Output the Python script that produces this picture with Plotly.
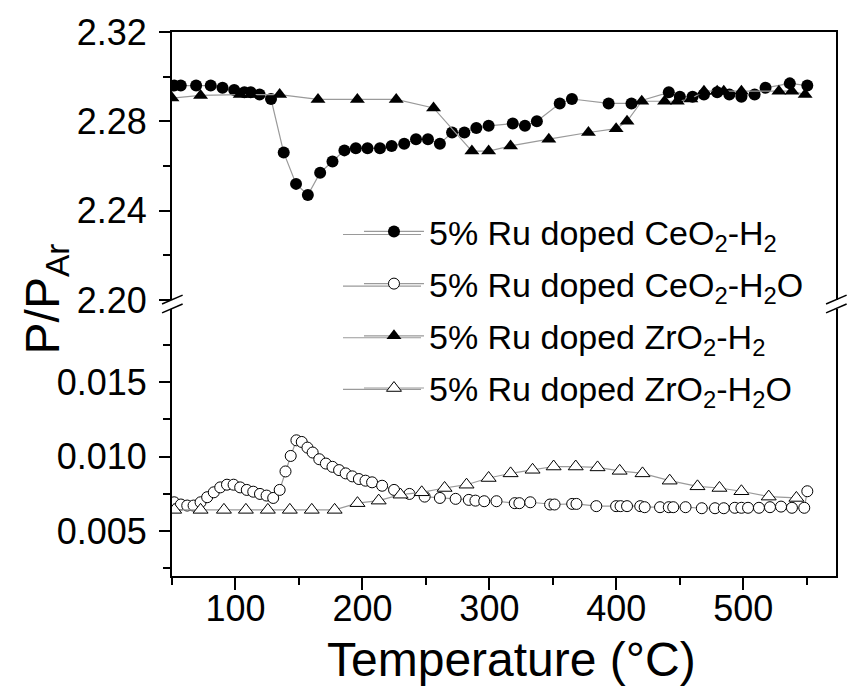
import plotly.graph_objects as go

# ---------------- data ----------------
ce_h2_T = [51.7, 56.9, 69, 80.5, 89.8, 99, 107, 112, 119, 128, 138, 147.7, 157, 166.7, 176.4,
           185.8, 194.8, 204, 213.8, 223, 232.9, 242.2, 251.6, 261, 270.6, 280.3, 289.7, 299.4,
           318.4, 328, 337.4, 355.4, 365, 393.9, 411.9, 441.3, 450, 460, 469, 479.4, 489, 498.5,
           508.9, 517.5, 536.6, 550.4]
ce_h2_v = [2.296, 2.296, 2.296, 2.296, 2.295, 2.294, 2.293, 2.293, 2.292, 2.290, 2.266, 2.252,
           2.247, 2.257, 2.262, 2.267, 2.268, 2.268, 2.268, 2.269, 2.270, 2.272, 2.272, 2.270,
           2.275, 2.275, 2.277, 2.278, 2.279, 2.278, 2.280, 2.288, 2.290, 2.288, 2.288, 2.293,
           2.291, 2.291, 2.292, 2.293, 2.292, 2.291, 2.292, 2.295, 2.297, 2.296]

zr_h2_T = [50, 72.5, 103.7, 112, 134.8, 165, 196, 226.6, 256, 286.2, 299.4, 316.7, 346.8, 378,
           399.8, 408.4, 420, 438, 448, 458.7, 469, 479.4, 484.6, 498.5, 528, 538.3, 548.7]
zr_h2_v = [2.2904, 2.2916, 2.292, 2.292, 2.292, 2.2898, 2.2898, 2.2898, 2.286, 2.2667, 2.2667,
           2.269, 2.272, 2.275, 2.2767, 2.280, 2.289, 2.289, 2.289, 2.290, 2.2935, 2.2935,
           2.2935, 2.2935, 2.2935, 2.2935, 2.292]

ce_h2o_T = [51.7, 57, 62, 67, 72.5, 77.7, 82.9, 88, 93.3, 98.5, 103.7, 108.9, 114, 119.3, 124.5,
            129.7, 134.8, 139.4, 143.5, 148, 152.2, 156.7, 160.8, 166, 171.2, 176.4, 181.6,
            186.8, 192, 197.2, 202.4, 207.6, 215.5, 224.9, 237, 249, 261, 273.4, 283.8, 289,
            295.9, 305.6, 320, 323.6, 332.2, 347.8, 351.3, 365.2, 368.6, 384.2, 399.8, 403.3,
            408.4, 418.8, 422.3, 434.4, 441.3, 444.8, 454.5, 467.3, 477.7, 484.6, 493.3, 498.5,
            503.7, 512.3, 521, 529.7, 538.3, 548, 550.4]
ce_h2o_v = [0.00693, 0.00678, 0.00671, 0.00671, 0.00693, 0.00727, 0.0076, 0.00793, 0.00811,
            0.00811, 0.00793, 0.00776, 0.00764, 0.00749, 0.00738, 0.00722, 0.00776, 0.0090,
            0.01004, 0.01109, 0.01098, 0.0106, 0.01027, 0.00982, 0.00953, 0.00931, 0.00909,
            0.00887, 0.00867, 0.00849, 0.00838, 0.00827, 0.00804, 0.00776, 0.00749, 0.00731,
            0.00722, 0.00716, 0.00709, 0.00704, 0.0070, 0.0070, 0.00687, 0.00687, 0.00693,
            0.00678, 0.00678, 0.00682, 0.00682, 0.00667, 0.00667, 0.00667, 0.00667, 0.00667,
            0.0066, 0.0066, 0.0066, 0.0066, 0.0066, 0.00653, 0.00653, 0.00653, 0.00656, 0.00656,
            0.00656, 0.00656, 0.0066, 0.00664, 0.00656, 0.00656, 0.00767]

zr_h2o_T = [51.7, 72.5, 90.9, 108.2, 125.5, 142.8, 160.1, 178.1, 196.1, 212.8, 230, 246.7, 264.7,
            282, 299.4, 316.7, 334, 350.6, 368, 385.2, 402.6, 420.6, 442, 463.9, 481.2, 498.5,
            520, 541.8]
zr_h2o_v = [0.00642, 0.00642, 0.00642, 0.00642, 0.00642, 0.00642, 0.00642, 0.00642, 0.00687,
            0.00704, 0.00744, 0.0076, 0.00789, 0.00811, 0.00856, 0.00887, 0.00911, 0.00933,
            0.00933, 0.00927, 0.00904, 0.00887, 0.00838, 0.0080, 0.00789, 0.00767, 0.00731,
            0.00722]

names = ["5% Ru doped CeO<sub>2</sub>-H<sub>2</sub>",
         "5% Ru doped CeO<sub>2</sub>-H<sub>2</sub>O",
         "5% Ru doped ZrO<sub>2</sub>-H<sub>2</sub>",
         "5% Ru doped ZrO<sub>2</sub>-H<sub>2</sub>O"]

x_ticks = [100, 200, 300, 400, 500]
upper_ticks = [2.20, 2.24, 2.28, 2.32]
lower_ticks = [0.005, 0.010, 0.015]
lower_ticktext = ["0.005", "0.010", "0.015"]

# ---------------- figure ----------------
FONT = "Arial, Liberation Sans, sans-serif"
LINE = dict(color="#9a9a9a", width=1.2)

fig = go.Figure()
fig.add_trace(go.Scatter(x=ce_h2_T, y=ce_h2_v, name=names[0], mode="lines+markers",
                         xaxis="x2", yaxis="y2", line=LINE, legendgroup="a",
                         marker=dict(symbol="circle", size=12, color="black",
                                     line=dict(width=0))))
fig.add_trace(go.Scatter(x=ce_h2o_T, y=ce_h2o_v, name=names[1], mode="lines+markers",
                         xaxis="x", yaxis="y", line=LINE, legendgroup="b",
                         marker=dict(symbol="circle", size=11, color="white",
                                     line=dict(width=1, color="black"))))
fig.add_trace(go.Scatter(x=zr_h2_T, y=zr_h2_v, name=names[2], mode="lines+markers",
                         xaxis="x2", yaxis="y2", line=LINE, legendgroup="c",
                         marker=dict(symbol="triangle-up", size=13, color="black",
                                     line=dict(width=0))))
fig.add_trace(go.Scatter(x=zr_h2o_T, y=zr_h2o_v, name=names[3], mode="lines+markers",
                         xaxis="x", yaxis="y", line=LINE, legendgroup="d",
                         marker=dict(symbol="triangle-up", size=13, color="white",
                                     line=dict(width=1, color="black"))))

ax_common = dict(showgrid=False, zeroline=False, linecolor="black", linewidth=2,
                 tickcolor="black", tickwidth=1.5)
minor_common = dict(ticks="outside", ticklen=7, tickcolor="black", tickwidth=1.5)

fig.update_layout(
    width=851, height=687,
    margin=dict(l=172, r=15, t=28, b=111, pad=0),
    plot_bgcolor="white", paper_bgcolor="white",
    font=dict(family=FONT, color="black"),
    xaxis=dict(range=[50, 573], domain=[0, 1], anchor="y", showline=True,
               ticks="outside", ticklen=12, tickvals=x_ticks,
               minor=dict(dtick=50, tick0=0, **minor_common),
               tickfont=dict(size=36, family=FONT), ticklabelstandoff=-12, **ax_common),
    xaxis2=dict(range=[50, 573], domain=[0, 1], anchor="y2", matches="x", side="top",
                showline=True, ticks="", showticklabels=False, **ax_common),
    yaxis=dict(range=[0.00198, 0.01991], domain=[0, 0.4909], anchor="x", showline=True,
               mirror=True, ticks="outside", ticklen=11, tickvals=lower_ticks,
               ticktext=lower_ticktext,
               minor=dict(dtick=0.0025, tick0=0, **minor_common),
               tickfont=dict(size=36, family=FONT), ticklabelstandoff=5, **ax_common),
    yaxis2=dict(range=[2.20, 2.32], domain=[0.5073, 1], anchor="x2", showline=True,
                mirror=True, ticks="outside", ticklen=11, tickvals=upper_ticks,
                tickformat=".2f",
                minor=dict(dtick=0.02, tick0=2.20, **minor_common),
                tickfont=dict(size=36, family=FONT), ticklabelstandoff=5, **ax_common),
    legend=dict(x=0.2816, y=0.686, xanchor="left", yanchor="top", bgcolor="rgba(0,0,0,0)",
                font=dict(size=34, family=FONT), tracegroupgap=5, itemwidth=60),
    showlegend=True,
)

# axis titles as annotations
fig.add_annotation(text="Temperature (°C)", xref="paper", yref="paper", x=0.511, y=-0.153,
                   xanchor="center", yanchor="middle", showarrow=False,
                   font=dict(size=48, family=FONT))
fig.add_annotation(text="P/P<sub>Ar</sub>", xref="paper", yref="paper", x=-0.19, y=0.51,
                   xanchor="center", yanchor="middle", showarrow=False, textangle=-90,
                   font=dict(size=48, family=FONT))

# legend sample lines (longer grey segments, like the original legend)
for row_y in (232, 284, 336, 388):
    yp = (576 - row_y) / 548
    fig.add_shape(type="line", xref="paper", yref="paper", layer="below",
                  x0=(343 - 172) / 664, x1=(421 - 172) / 664, y0=yp, y1=yp,
                  line=dict(color="#9a9a9a", width=1.2))

# axis break marks
for xc in (0.0, 1.0):
    for (y0, y1) in ((0.5, 0.5164), (0.4836, 0.5)):
        fig.add_shape(type="line", xref="paper", yref="paper",
                      x0=xc - 0.015, x1=xc + 0.016, y0=y0, y1=y1,
                      line=dict(color="black", width=1.5))

fig.write_html("out.html")
